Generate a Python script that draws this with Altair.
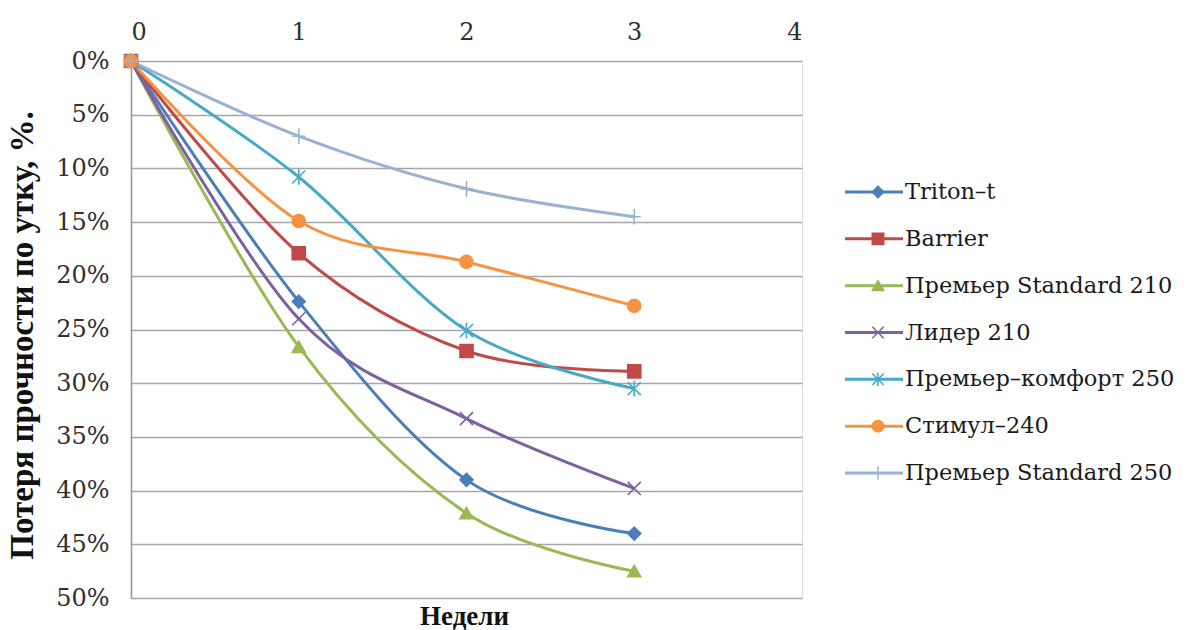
import altair as alt
import pandas as pd

# Weeks of exposure and strength loss along the weft, %
weeks = [0, 1, 2, 3]
series = [
    "Triton–t",
    "Barrier",
    "Премьер Standard 210",
    "Лидер 210",
    "Премьер–комфорт 250",
    "Стимул–240",
    "Премьер Standard 250",
]
triton = [0, 22.4, 39.0, 44.0]
barrier = [0, 17.9, 27.0, 28.9]
premier_210 = [0, 26.6, 42.1, 47.5]
lider_210 = [0, 24.0, 33.3, 39.8]
komfort_250 = [0, 10.8, 25.1, 30.5]
stimul_240 = [0, 14.9, 18.7, 22.8]
premier_250 = [0, 7.0, 11.9, 14.5]
values = [triton, barrier, premier_210, lider_210, komfort_250, stimul_240, premier_250]

colors = ["#4A7EBB", "#BE4B48", "#98B954", "#7D60A0", "#46AAC5", "#F69240", "#98B2D4"]
x_path = "M-1,-1L1,1M-1,1L1,-1"
star_path = "M-1,-1L1,1M-1,1L1,-1M0,-1.2L0,1.2"
plus_path = "M0,-1.2L0,1.2M-1,0L1,0"
shapes = ["diamond", "square", "triangle-up", x_path, star_path, "circle", plus_path]

x_ticks = [0, 1, 2, 3, 4]
y_ticks = [0, 5, 10, 15, 20, 25, 30, 35, 40, 45, 50]

rows = []
for name, vals in zip(series, values):
    for w, v in zip(weeks, vals):
        rows.append({"series": name, "week": w, "loss": v})
df = pd.DataFrame(rows)
legend_df = pd.DataFrame({"series": series, "row": list(range(len(series)))})

TEXT_FONT = "DejaVu Serif"
TITLE_FONT = "Liberation Serif"
LABEL_SIZE = 24
W, H = 671, 537

color_scale = alt.Scale(domain=series, range=colors)
shape_scale = alt.Scale(domain=series, range=shapes)
x_scale = alt.Scale(domain=[0, 4], nice=False)
y_scale = alt.Scale(domain=[0, 50], reverse=True, nice=False)

x_axis = alt.Axis(values=x_ticks, orient="top", title=None, grid=False, ticks=False,
                  domain=False, labelPadding=17, labelFontSize=LABEL_SIZE, labelFont=TEXT_FONT,
                  labelColor="#303030")
y_axis = alt.Axis(values=y_ticks, labelExpr="datum.value + '%'", ticks=False,
                  labelPadding=22, labelFontSize=LABEL_SIZE, labelFont=TEXT_FONT,
                  labelColor="#303030", grid=True, gridColor="#A6A6A6",
                  gridWidth=1.6, domain=True, domainColor="#9A9A9A", domainWidth=1.6,
                  title="Потеря прочности по утку, %.", titleFont=TITLE_FONT,
                  titleFontSize=33, titleFontWeight="bold", titleColor="#111111",
                  titlePadding=16, titleY=274)

lines = alt.Chart(df).mark_line(interpolate="cardinal", strokeWidth=3).encode(
    x=alt.X("week:Q", scale=x_scale, axis=x_axis),
    y=alt.Y("loss:Q", scale=y_scale, axis=y_axis),
    color=alt.Color("series:N", scale=color_scale, legend=None),
    detail="series:N",
)

points = alt.Chart(df).mark_point(filled=True, size=170, strokeWidth=1.6, opacity=1).encode(
    x=alt.X("week:Q", scale=x_scale, axis=x_axis),
    y=alt.Y("loss:Q", scale=y_scale, axis=None),
    color=alt.Color("series:N", scale=color_scale, legend=None),
    stroke=alt.Stroke("series:N", scale=color_scale, legend=None),
    shape=alt.Shape("series:N", scale=shape_scale, legend=None),
)

# Legend drawn on the right, one row per series
legend_y = alt.Y("row:Q", scale=alt.Scale(domain=[0, 6], range=[131, 412]), axis=None)

legend_lines = alt.Chart(legend_df).mark_rule(strokeWidth=3).encode(
    x=alt.value(W + 43), x2=alt.value(W + 101), y=legend_y,
    color=alt.Color("series:N", scale=color_scale, legend=None),
)
legend_points = alt.Chart(legend_df).mark_point(filled=True, size=130, strokeWidth=1.5, opacity=1).encode(
    x=alt.value(W + 76), y=legend_y,
    color=alt.Color("series:N", scale=color_scale, legend=None),
    stroke=alt.Stroke("series:N", scale=color_scale, legend=None),
    shape=alt.Shape("series:N", scale=shape_scale, legend=None),
)
legend_text = alt.Chart(legend_df).mark_text(
    align="left", baseline="middle", font=TEXT_FONT, fontSize=22.5, color="#1A1A1A"
).encode(x=alt.value(W + 103), y=legend_y, text="series:N")

chart = alt.layer(lines, points, legend_lines, legend_points, legend_text).resolve_scale(
    y="independent"
).properties(
    width=W,
    height=H,
    autosize=alt.AutoSizeParams(type="none"),
    padding={"left": 131, "top": 61, "right": 1195 - 131 - W, "bottom": 630 - 61 - H},
    title=alt.TitleParams("Недели", orient="bottom", anchor="middle", frame="group",
                          font=TITLE_FONT, fontSize=27, fontWeight="bold", color="#111111",
                          offset=-6, dx=-2),
).configure_view(stroke=None).configure(background="white")

chart.save("out.html", embed_options={"renderer": "svg", "actions": False})
